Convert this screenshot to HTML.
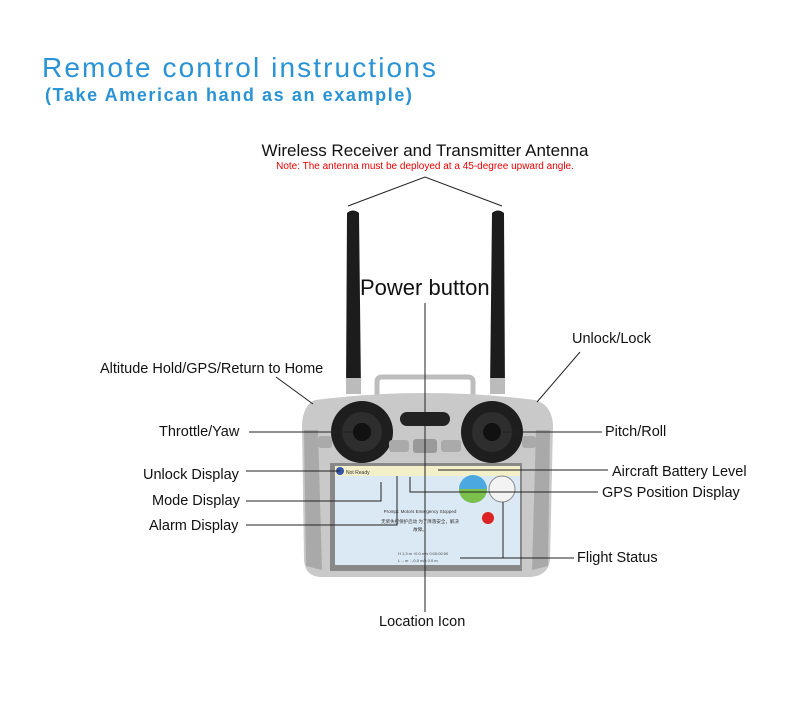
<!DOCTYPE html>
<html><head><meta charset="utf-8"><style>
body{margin:0;background:#fff;width:790px;height:708px;overflow:hidden}
svg{display:block}
text{font-family:"Liberation Sans","Noto Sans CJK SC",sans-serif}
</style></head><body>
<svg width="790" height="708" viewBox="0 0 790 708">
<text x="42" y="77" font-size="28" fill="#2a93d5" letter-spacing="2.1">Remote control instructions</text>
<text x="45" y="101" font-size="18" fill="#2a93d5" font-weight="bold" letter-spacing="1.6">(Take American hand as an example)</text>
<text x="425" y="156" font-size="17" fill="#111" text-anchor="middle">Wireless Receiver and Transmitter Antenna</text>
<text x="425" y="169" font-size="10" fill="#e00" text-anchor="middle">Note: The antenna must be deployed at a 45-degree upward angle.</text>
<polyline points="348,206 425,177 502,206" fill="none" stroke="#222" stroke-width="1"/>
<path d="M347,213 Q353,208 359,213 L361,392 L346,392 Z" fill="#1c1c1c"/>
<path d="M492,213 Q498,208 504,213 L505,392 L490,392 Z" fill="#1c1c1c"/>
<rect x="346" y="378" width="15" height="16" fill="#bbb"/>
<rect x="490" y="378" width="15" height="16" fill="#bbb"/>
<path d="M377,395 L377,382 Q377,377 382,377 L468,377 Q473,377 473,382 L473,395" fill="none" stroke="#bdbdbd" stroke-width="5"/>
<path d="M315,400 Q425,386 535,400 Q552,405 553,425 L550,560 Q548,576 530,577 L320,577 Q305,576 304,560 L302,425 Q303,405 315,400 Z" fill="#c9c9c9"/>
<path d="M304,430 L318,430 L322,570 L306,566 Z" fill="#a9a9a9"/>
<path d="M550,430 L536,430 L532,570 L548,566 Z" fill="#a9a9a9"/>
<circle cx="362" cy="432" r="31" fill="#1e1e1e"/><circle cx="362" cy="432" r="20" fill="#2e2e2e"/><circle cx="362" cy="432" r="9" fill="#111"/>
<circle cx="492" cy="432" r="31" fill="#1e1e1e"/><circle cx="492" cy="432" r="20" fill="#2e2e2e"/><circle cx="492" cy="432" r="9" fill="#111"/>
<rect x="400" y="412" width="50" height="14" rx="7" fill="#222"/>
<rect x="389" y="440" width="20" height="12" rx="3" fill="#aaa"/>
<rect x="413" y="439" width="24" height="14" rx="3" fill="#999"/>
<rect x="441" y="440" width="20" height="12" rx="3" fill="#aaa"/>
<rect x="318" y="436" width="14" height="12" rx="3" fill="#aaa"/>
<rect x="522" y="436" width="14" height="12" rx="3" fill="#aaa"/>
<rect x="330" y="463" width="192" height="108" fill="#888"/>
<rect x="335" y="466" width="185" height="99" fill="#dbe9f5"/>
<rect x="335" y="466" width="185" height="10" fill="#f3efc8"/>
<circle cx="340" cy="471" r="4" fill="#3355aa"/>
<text x="346" y="474" font-size="5" fill="#333">Not Ready</text>
<circle cx="473" cy="489" r="14" fill="#4ba8e0"/>
<path d="M459,489 A14,14 0 0 0 487,489 Z" fill="#7ac04a"/>
<circle cx="502" cy="489" r="13" fill="#f3f3f3" stroke="#888"/>
<circle cx="488" cy="518" r="6" fill="#d22"/>
<text x="420" y="513" font-size="4.5" fill="#333" text-anchor="middle">Prompt: Motors Emergency Stopped</text>
<text x="420" y="523" font-size="4.5" fill="#333" text-anchor="middle">无桨失控保护启动 为了降落安全，解决</text>
<text x="420" y="531" font-size="4.5" fill="#333" text-anchor="middle">故障。</text>
<text x="398" y="555" font-size="4" fill="#444">H 1.3 m  ↑0.0 m/s  0:00:00:00</text>
<text x="398" y="562" font-size="4" fill="#444">L -- m  →0.0 m/s  0.0 m</text>
<g stroke="#222" stroke-width="1" fill="none">
<line x1="425" y1="303" x2="425" y2="612"/>
<line x1="276" y1="377" x2="313" y2="404"/>
<line x1="580" y1="352" x2="537" y2="402"/>
<line x1="249" y1="432" x2="353" y2="432"/>
<line x1="503" y1="432" x2="602" y2="432"/>
<line x1="246" y1="471" x2="340" y2="471"/>
<polyline points="246,501 381,501 381,482"/>
<polyline points="246,525 397,525 397,476"/>
<line x1="438" y1="470" x2="608" y2="470"/>
<polyline points="410,477 410,492 598,492"/>
<polyline points="460,558 574,558"/>
<line x1="503" y1="502" x2="503" y2="558"/>
</g>
<g font-size="14.5" fill="#111">
<text x="360" y="295" font-size="22">Power button</text>
<text x="572" y="343">Unlock/Lock</text>
<text x="100" y="373">Altitude Hold/GPS/Return to Home</text>
<text x="159" y="436">Throttle/Yaw</text>
<text x="605" y="436">Pitch/Roll</text>
<text x="143" y="479">Unlock Display</text>
<text x="612" y="476">Aircraft Battery Level</text>
<text x="152" y="505">Mode Display</text>
<text x="602" y="497">GPS Position Display</text>
<text x="149" y="530">Alarm Display</text>
<text x="577" y="562">Flight Status</text>
<text x="379" y="626">Location Icon</text>
</g>
</svg>
</body></html>
